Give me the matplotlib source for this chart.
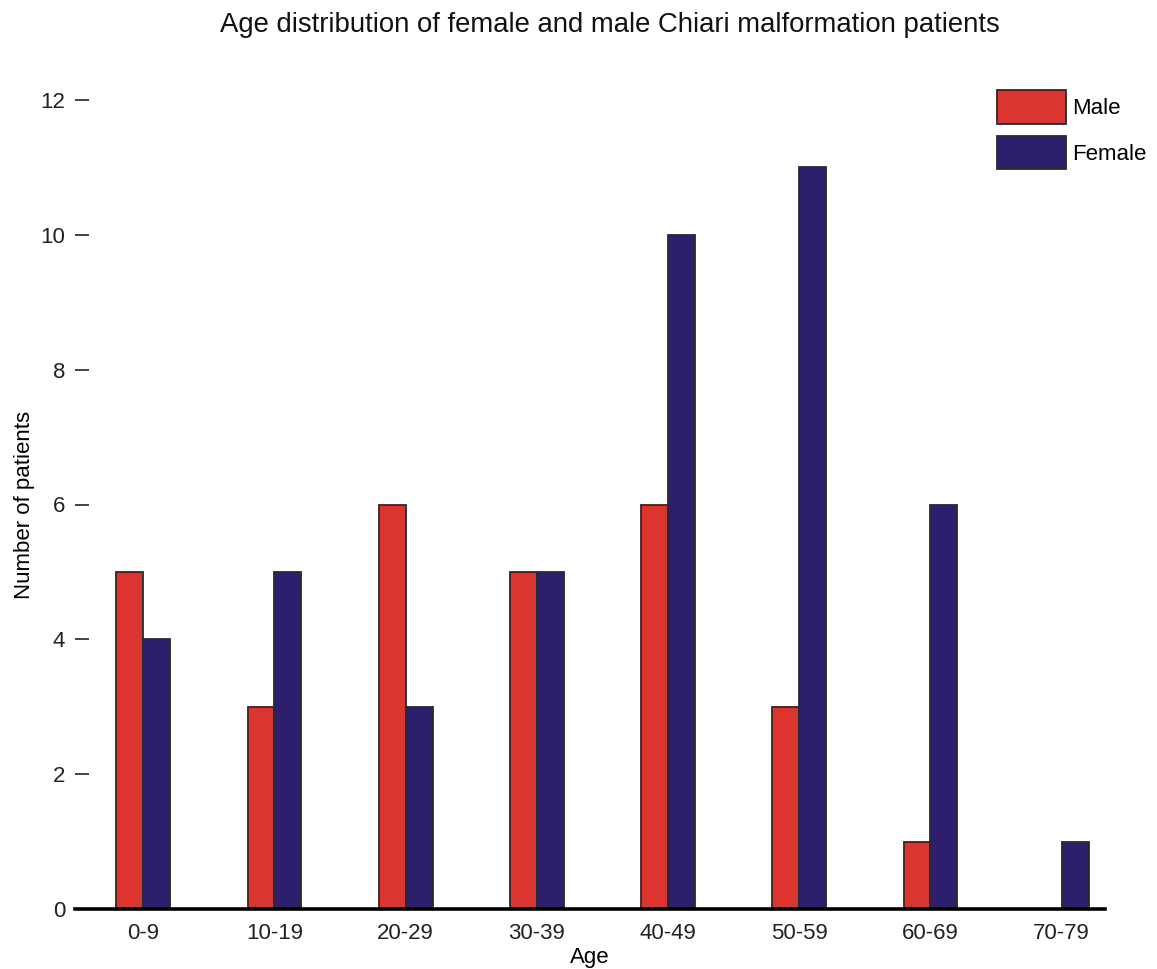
import matplotlib
matplotlib.use("Agg")
import matplotlib.pyplot as plt
import numpy as np

plt.rcParams['font.family'] = ['Liberation Sans', 'DejaVu Sans']

age_groups = ["0-9", "10-19", "20-29", "30-39", "40-49", "50-59", "60-69", "70-79"]
male_counts = [5, 3, 6, 5, 6, 3, 1, 0]
female_counts = [4, 5, 3, 5, 10, 11, 6, 1]
y_ticks = [0, 2, 4, 6, 8, 10, 12]

male_color = "#dc3530"
female_color = "#2e1f6e"

fig = plt.figure(figsize=(11.57, 9.69), dpi=100)
ax = fig.add_axes([75 / 1157, 1 - 909 / 969, (1105 - 75) / 1157, (909 - 100) / 969])

x = np.arange(len(age_groups))
w = 0.205
ax.bar(x - w / 2, male_counts, width=w, color=male_color, edgecolor="#2a2a2a",
       linewidth=1.3, label="Male")
ax.bar(x + w / 2, female_counts, width=w, color=female_color, edgecolor="#2a2a2a",
       linewidth=1.3, label="Female")

ax.set_xlim(-0.52, 7.33)
ax.set_ylim(0, 12)
ax.set_yticks(y_ticks)
ax.set_xticks(x)
ax.set_xticklabels(age_groups)

for s in ["top", "right", "left"]:
    ax.spines[s].set_visible(False)
ax.spines["bottom"].set_linewidth(2.6)
ax.spines["bottom"].set_color("black")

ax.tick_params(axis="y", direction="in", length=10, width=1.2, pad=7,
               labelsize=16, colors="#222222")
ax.tick_params(axis="x", length=0, pad=10, labelsize=16, labelcolor="#222222")

ax.set_xlabel("Age", fontsize=16, labelpad=2)
ax.set_ylabel("Number of patients", fontsize=16, labelpad=4)

fig.text(610 / 1157, 1 - 25 / 969, "Age distribution of female and male Chiari malformation patients",
         ha="center", va="center", fontsize=19.8, color="#111111")

ax.legend(loc="upper left", bbox_to_anchor=(997 / 1157, 1 - 90 / 969),
          bbox_transform=fig.transFigure, frameon=False, borderpad=0,
          borderaxespad=0, fontsize=16, handlelength=3.1, handleheight=1.95,
          labelspacing=0.55, handletextpad=0.3)

fig.savefig("out.png", dpi=100)
